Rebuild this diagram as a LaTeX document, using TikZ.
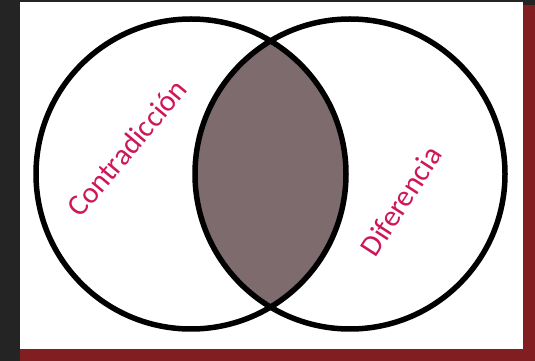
\documentclass[tikz,border=0pt]{standalone}
\usepackage{fontspec}
\setmainfont{Carlito}
\usetikzlibrary{positioning}

\definecolor{framegray}{RGB}{36,36,36}
\definecolor{framered}{RGB}{128,30,34}
\definecolor{lensfill}{RGB}{125,107,110}
\definecolor{labelred}{RGB}{206,22,88}

\begin{document}
\begin{tikzpicture}[
    x=1pt, y=1pt,
    ring/.style={draw=black, line width=5.5pt},
    lens/.style={fill=lensfill},
    setlabel/.style={text=labelred, font=\fontsize{30}{32}\selectfont, inner sep=0pt},
]

%% FRAME
    \fill[framegray] (0,0) rectangle (535,361);
    \fill[framered] (20,0) rectangle (535,356);
    \fill[white] (20,12) rectangle (523,359);
    \useasboundingbox (0,0) rectangle (535,361);

%% SETS
    \coordinate (left_set) at (191,187);
    \coordinate (right_set) at (350,187);

    % intersection
    \begin{scope}
        \clip (left_set) circle (155);
        \fill[lens] (right_set) circle (155);
    \end{scope}

    % outlines
    \draw[ring] (left_set) circle (155);
    \draw[ring] (right_set) circle (155);

%% LABELS
    \node[setlabel, rotate=50] (contradiccion) at (127,213) {Contradicción};
    \node[setlabel, rotate=57] (diferencia) at (401,160) {Diferencia};

\end{tikzpicture}
\end{document}
